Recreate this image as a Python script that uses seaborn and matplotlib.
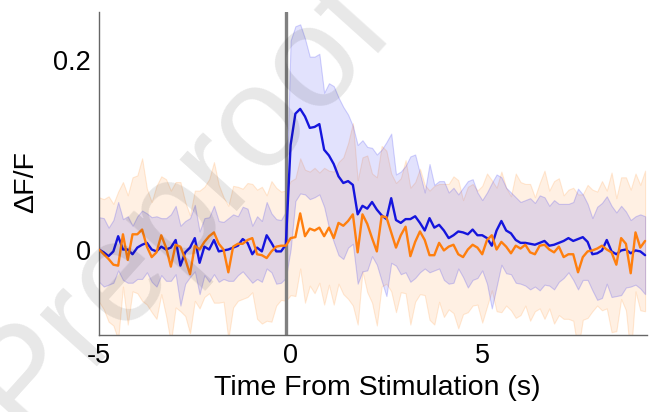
import numpy as np
import pandas as pd
import matplotlib
matplotlib.use("Agg")
import matplotlib.pyplot as plt
import seaborn as sns

# ---------------- data ----------------
t_start = -5.0
dt = 0.125
stim_line_x = -0.12

blue_mean = [0.0, -0.003, -0.007, -0.002, 0.014, 0.0, 0.0, -0.005, 0.002, 0.005,
             0.007, 0.0, -0.002, 0.003, 0.0, 0.002, 0.01, -0.017, -0.003, 0.002,
             0.012, -0.014, 0.003, 0.0, 0.01, -0.002, -0.001, 0.0, 0.002, 0.004,
             0.011, 0.007, -0.005, 0.002, -0.002, 0.015, 0.007, -0.002, -0.002, 0.005,
             0.11, 0.143, 0.148, 0.14, 0.128, 0.129, 0.132, 0.105, 0.099, 0.09,
             0.077, 0.07, 0.072, 0.068, 0.037, 0.046, 0.043, 0.05, 0.042, 0.036,
             0.032, 0.054, 0.031, 0.028, 0.032, 0.032, 0.035, 0.028, 0.02, 0.033,
             0.023, 0.026, 0.02, 0.012, 0.015, 0.019, 0.018, 0.016, 0.021, 0.015,
             0.015, 0.012, 0.004, 0.02, 0.03, 0.02, 0.017, 0.01, 0.007, 0.007,
             0.006, 0.005, 0.007, 0.009, 0.004, 0.005, 0.007, 0.009, 0.012, 0.009,
             0.011, 0.013, 0.008, -0.005, -0.004, -0.001, 0.01, -0.002, -0.005, -0.001,
             0.0, -0.004, -0.001, -0.002, -0.006]

blue_err = [0.034, 0.036, 0.030, 0.033, 0.036, 0.032, 0.035, 0.030, 0.033, 0.036,
            0.031, 0.034, 0.037, 0.030, 0.033, 0.035, 0.036, 0.042, 0.033, 0.031,
            0.035, 0.033, 0.030, 0.034, 0.036, 0.032, 0.030, 0.033, 0.035, 0.031,
            0.034, 0.036, 0.030, 0.033, 0.032, 0.035, 0.031, 0.034, 0.033, 0.035,
            0.11, 0.092, 0.089, 0.082, 0.075, 0.074, 0.074, 0.06, 0.076, 0.082,
            0.083, 0.08, 0.07, 0.062, 0.073, 0.069, 0.065, 0.057, 0.058, 0.069,
            0.081, 0.068, 0.048, 0.054, 0.056, 0.066, 0.065, 0.052, 0.04, 0.057,
            0.045, 0.046, 0.052, 0.048, 0.05, 0.039, 0.047, 0.056, 0.053, 0.045,
            0.037, 0.048, 0.066, 0.059, 0.046, 0.045, 0.043, 0.045, 0.043, 0.045,
            0.048, 0.044, 0.05, 0.046, 0.042, 0.047, 0.041, 0.039, 0.036, 0.041,
            0.053, 0.045, 0.04, 0.038, 0.049, 0.05, 0.046, 0.048, 0.044, 0.047,
            0.04, 0.035, 0.036, 0.039, 0.041]

orange_mean = [0.0, -0.005, -0.01, -0.016, -0.017, 0.016, -0.011, 0.016, 0.016, 0.021,
               0.003, -0.008, -0.003, 0.015, 0.002, -0.018, 0.005, 0.003, -0.01, -0.026,
               0.004, 0.0, 0.008, 0.014, 0.018, 0.006, 0.0, -0.024, 0.003, 0.006,
               0.006, 0.01, 0.012, -0.005, -0.006, -0.009, -0.002, 0.003, 0.004, 0.004,
               0.012, 0.013, 0.038, 0.014, 0.022, 0.02, 0.023, 0.014, 0.023, 0.012,
               0.028, 0.025, 0.03, 0.037, -0.003, 0.037, 0.027, 0.012, -0.002, 0.035,
               0.034, 0.018, 0.002, 0.015, 0.024, -0.007, 0.008, 0.019, 0.01, -0.006,
               -0.006, 0.007, -0.001, 0.003, 0.005, -0.005, -0.008, 0.0, 0.005, 0.002,
               -0.005, 0.01, 0.015, 0.0, 0.008, 0.003, -0.004, 0.004, 0.001, 0.005,
               -0.003, -0.005, 0.004, 0.005, 0.0, -0.003, 0.003, -0.008, -0.005, -0.005,
               -0.024, -0.008, -0.002, -0.001, 0.001, 0.004, 0.0, -0.003, -0.016, 0.012,
               0.006, -0.025, 0.018, 0.002, 0.009]

orange_err = [0.055, 0.058, 0.066, 0.064, 0.078, 0.055, 0.068, 0.06, 0.062, 0.075,
              0.061, 0.058, 0.07, 0.062, 0.072, 0.08, 0.066, 0.068, 0.06, 0.062,
              0.058, 0.062, 0.058, 0.06, 0.074, 0.062, 0.055, 0.07, 0.064, 0.06,
              0.058, 0.06, 0.057, 0.068, 0.072, 0.066, 0.074, 0.062, 0.057, 0.058,
              0.06, 0.062, 0.058, 0.07, 0.06, 0.066, 0.058, 0.072, 0.06, 0.07,
              0.064, 0.072, 0.082, 0.096, 0.076, 0.06, 0.072, 0.068, 0.078, 0.074,
              0.07, 0.062, 0.068, 0.06, 0.07, 0.072, 0.063, 0.066, 0.058, 0.068,
              0.073, 0.062, 0.07, 0.066, 0.072, 0.078, 0.06, 0.066, 0.064, 0.06,
              0.072, 0.07, 0.058, 0.065, 0.074, 0.062, 0.06, 0.076, 0.07, 0.064,
              0.072, 0.06, 0.066, 0.078, 0.062, 0.075, 0.072, 0.065, 0.068, 0.07,
              0.082, 0.066, 0.07, 0.064, 0.06, 0.068, 0.062, 0.084, 0.07, 0.064,
              0.07, 0.088, 0.062, 0.066, 0.074]

x_ticks = [-5, 0, 5]
x_ticklabels = ["-5", "0", "5"]
y_ticks = [0, 0.2]
y_ticklabels = ["0", "0.2"]
x_label = "Time From Stimulation (s)"
y_label = "ΔF/F"
watermark = "Preproof"

# ---------------- build frame ----------------
n = len(blue_mean)
time = t_start + dt * np.arange(n)
blue_mean_a = np.array(blue_mean)
blue_err_a = np.array(blue_err)
orange_mean_a = np.array(orange_mean)
orange_err_a = np.array(orange_err)

df = pd.concat([
    pd.DataFrame({"time": time, "dff": blue_mean_a, "cond": "blue"}),
    pd.DataFrame({"time": time, "dff": orange_mean_a, "cond": "orange"}),
])

BLUE = "#1515dd"
ORANGE = "#ff7f0e"

sns.set_style("white")
plt.rcParams["font.family"] = ["Liberation Sans", "DejaVu Sans"]

fig = plt.figure(figsize=(6.51, 4.12), dpi=100)
ax = fig.add_axes([99 / 651, 1 - 335 / 412, 548 / 651, 323 / 412])

# shaded bands
ax.fill_between(time, orange_mean_a - orange_err_a, orange_mean_a + orange_err_a,
                facecolor=(1.0, 0.5, 0.055, 0.115), edgecolor=(1.0, 0.5, 0.055, 0.16),
                linewidth=0.8, zorder=1)
ax.fill_between(time, blue_mean_a - blue_err_a, blue_mean_a + blue_err_a,
                facecolor=(0.08, 0.08, 0.95, 0.12), edgecolor=(0.08, 0.08, 0.95, 0.18),
                linewidth=0.8, zorder=1.1)

# stimulus line
ax.axvline(stim_line_x, color="#808080", linewidth=2.4, zorder=2)

# mean traces
sns.lineplot(data=df, x="time", y="dff", hue="cond",
             palette={"blue": BLUE, "orange": ORANGE},
             linewidth=1.7, legend=False, ax=ax, zorder=3, estimator=None)

ax.set_xlim(-5, 9.3)
ax.set_ylim(-0.09, 0.25)
ax.set_xticks(x_ticks)
ax.set_xticklabels(x_ticklabels)
ax.set_yticks(y_ticks)
ax.set_yticklabels(y_ticklabels)
ax.tick_params(direction="in", length=4, width=0.9, colors="#555555",
               labelcolor="black", labelsize=19.5, pad=6)

for side in ["top", "right"]:
    ax.spines[side].set_visible(False)
for side in ["left", "bottom"]:
    ax.spines[side].set_color("#666666")
    ax.spines[side].set_linewidth(1.0)

ax.set_xlabel(x_label, fontsize=20.5, color="black")
ax.set_ylabel(y_label, fontsize=20.5, color="black")
ax.xaxis.set_label_coords(0.507, -0.125)
ax.yaxis.set_label_coords(-0.11, 0.474)

# watermark
fig.text(180 / 651, 1 - 205 / 412, watermark, rotation=48, fontsize=104,
         color=(0, 0, 0, 0.095), ha="center", va="center",
         rotation_mode="anchor", zorder=10)

fig.savefig("out.png", dpi=100)
